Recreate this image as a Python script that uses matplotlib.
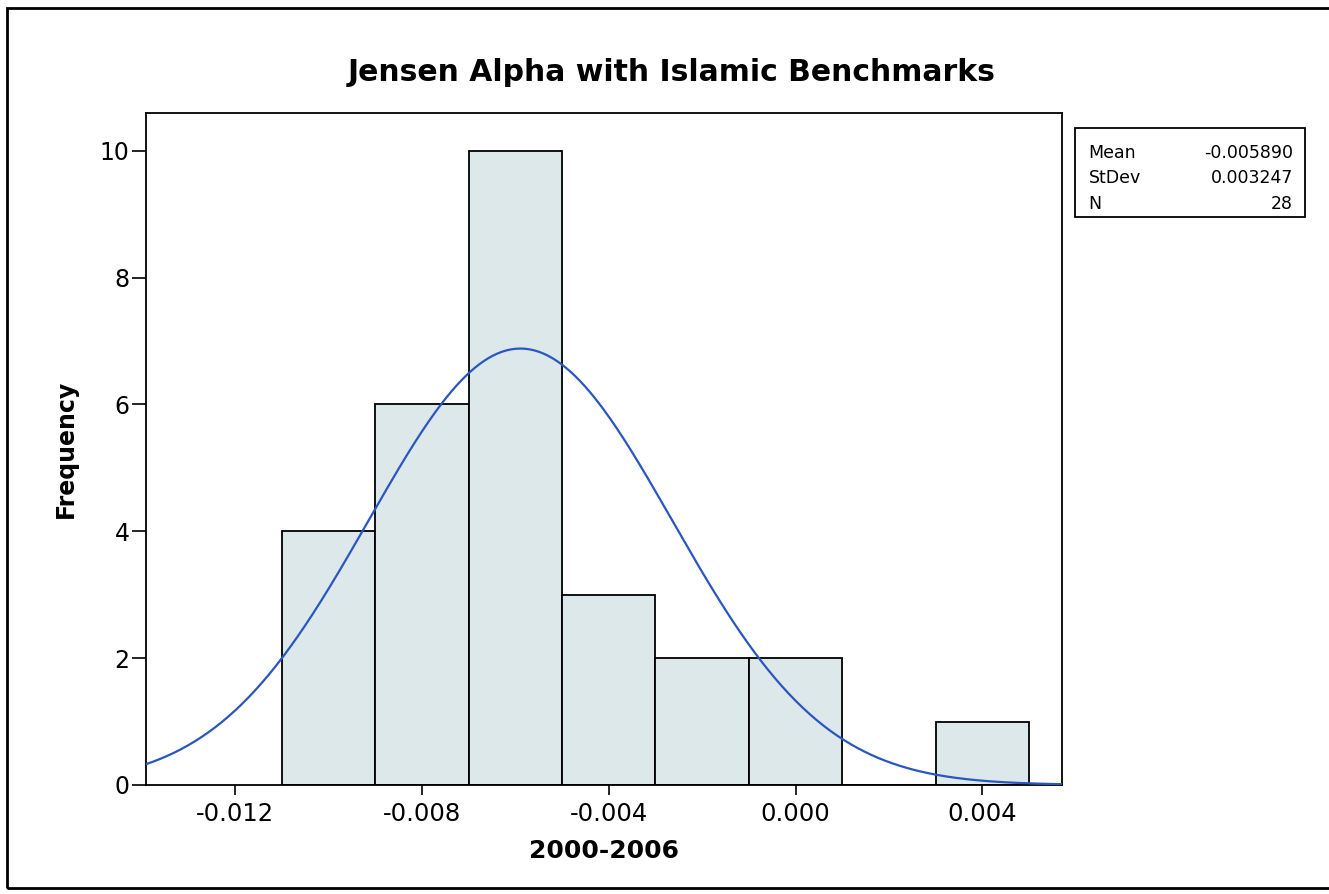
import matplotlib
matplotlib.use("Agg")
import matplotlib.pyplot as plt
import numpy as np
from matplotlib.patches import Rectangle

# histogram data (bin centres, counts)
bin_centres = [-0.010, -0.008, -0.006, -0.004, -0.002, 0.000, 0.002, 0.004]
counts = [4, 6, 10, 3, 2, 2, 0, 1]
bin_width = 0.002
mean, stdev, n = -0.005890, 0.003247, 28
xticks = [-0.012, -0.008, -0.004, 0.000, 0.004]
yticks = [0, 2, 4, 6, 8, 10]

BAR = "#dde8eb"
CURVE = "#2a56c0"

plt.rcParams["font.family"] = "DejaVu Sans"
fig = plt.figure(figsize=(13.29, 8.94), dpi=100)
ax = fig.add_axes([0.110, 0.122, 0.689, 0.752])

ax.bar(bin_centres, counts, width=bin_width, color=BAR, edgecolor="black", linewidth=1.3, zorder=2)

# fitted normal curve from the stats shown in the box
xs = np.linspace(-0.0139, 0.0057, 400)
pdf = n * bin_width * np.exp(-0.5 * ((xs - mean) / stdev) ** 2) / (stdev * np.sqrt(2 * np.pi))
ax.plot(xs, pdf, color=CURVE, lw=1.6, zorder=3)

ax.set_xlim(-0.0139, 0.0057)
ax.set_ylim(0, 10.6)
ax.set_xticks(xticks)
ax.set_xticklabels([f"{v:.3f}" for v in xticks])
ax.set_yticks(yticks)
ax.tick_params(axis="y", labelsize=17, length=10, width=1.2, pad=2)
ax.tick_params(axis="x", labelsize=17.5, length=7, width=1.2, pad=5)
for s in ax.spines.values():
    s.set_linewidth(1.3)

fig.text(0.505, 0.919, "Jensen Alpha with Islamic Benchmarks", fontsize=21.5,
         fontweight="bold", ha="center", va="center")
ax.set_xlabel("2000-2006", fontsize=18, fontweight="bold", labelpad=10)
ax.set_ylabel("Frequency", fontsize=17, fontweight="bold", labelpad=16)

# stats box
fig.patches.append(Rectangle((0.809, 0.757), 0.173, 0.100, transform=fig.transFigure,
                             fill=False, edgecolor="black", linewidth=1.3))
rows = [("Mean", f"{mean:.6f}"), ("StDev", f"{stdev:.6f}"), ("N", f"{n}")]
for i, (k, v) in enumerate(rows):
    y = 0.829 - i * 0.0285
    fig.text(0.819, y, k, fontsize=12.5, va="center")
    fig.text(0.973, y, v, fontsize=12.5, va="center", ha="right")

# outer frame of the scanned figure
fig.patches.append(Rectangle((0.005, 0.007), 1.2, 0.984, transform=fig.transFigure,
                             fill=False, edgecolor="black", linewidth=2))

fig.savefig("out.png", dpi=100)
